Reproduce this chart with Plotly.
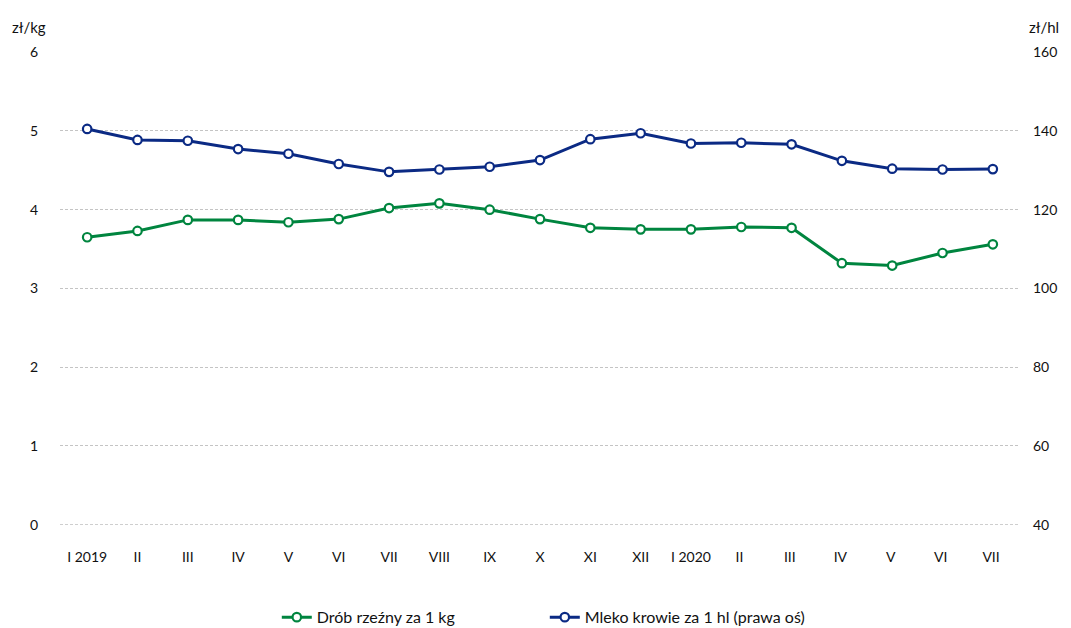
import plotly.graph_objects as go

months = ["I 2019", "II", "III", "IV", "V", "VI", "VII", "VIII", "IX", "X", "XI", "XII",
          "I 2020", "II ", "III ", "IV ", "V ", "VI ", "VII "]
drob = [3.65, 3.73, 3.87, 3.87, 3.84, 3.88, 4.02, 4.08, 4.00, 3.88, 3.77, 3.75,
        3.75, 3.78, 3.77, 3.32, 3.29, 3.45, 3.56]
mleko = [140.5, 137.7, 137.5, 135.4, 134.2, 131.6, 129.6, 130.2, 130.9, 132.6, 137.9, 139.4,
         136.8, 137.0, 136.6, 132.4, 130.4, 130.2, 130.3]
left_ticks = [0, 1, 2, 3, 4, 5, 6]
right_ticks = [40, 60, 80, 100, 120, 140, 160]

GREEN = "#00853F"
BLUE = "#0B2A84"
GRID = "#c4c4c4"
FONT = "Lato"

fig = go.Figure()
fig.add_trace(go.Scatter(
    x=months, y=drob, name="Drób rzeźny za 1 kg", mode="lines+markers",
    line=dict(color=GREEN, width=3),
    marker=dict(size=8.5, color="white", line=dict(color=GREEN, width=2.2)),
))
fig.add_trace(go.Scatter(
    x=months, y=mleko, name="Mleko krowie za 1 hl (prawa oś)", mode="lines+markers",
    yaxis="y2",
    line=dict(color=BLUE, width=3),
    marker=dict(size=8.5, color="white", line=dict(color=BLUE, width=2.2)),
))

# dashed gridline at the baseline (plotly omits the grid line at zero)
fig.add_shape(type="line", xref="paper", yref="y", x0=0, x1=1,
              y0=left_ticks[0], y1=left_ticks[0],
              line=dict(color=GRID, width=1, dash="3px,2px"), layer="below")

fig.update_layout(
    width=1071, height=628,
    margin=dict(l=60, r=51, t=52, b=103, autoexpand=False),
    paper_bgcolor="white", plot_bgcolor="white",
    font=dict(family=FONT, size=14, color="#111111"),
    showlegend=True,
    legend=dict(orientation="h", x=0.505, xanchor="center", y=-0.195, yanchor="middle",
                font=dict(size=16), entrywidth=223),
    xaxis=dict(type="category", range=[-0.54, 18.54], showgrid=False, zeroline=False,
               showline=False, ticks="", ticklabelstandoff=22, automargin=False,
               tickfont=dict(size=14)),
    yaxis=dict(range=[-0.004, 6.002], tickvals=left_ticks, showgrid=True, gridcolor=GRID,
               griddash="3px,2px", gridwidth=1, zeroline=False, showline=False,
               ticklabelstandoff=21, automargin=False),
    yaxis2=dict(range=[39.92, 160.04], tickvals=right_ticks, overlaying="y", side="right",
                showgrid=False, zeroline=False, showline=False, ticklabelstandoff=12,
                automargin=False),
    annotations=[
        dict(text="zł/kg", xref="paper", yref="paper", x=-0.052, y=1.053,
             xanchor="left", yanchor="middle", showarrow=False, font=dict(size=15)),
        dict(text="zł/hl", xref="paper", yref="paper", x=1.007, y=1.053,
             xanchor="left", yanchor="middle", showarrow=False, font=dict(size=15)),
    ],
)

fig.write_html("out.html", config={"displayModeBar": False},
               post_script="document.body.style.margin='0';document.body.style.overflow='hidden';")
